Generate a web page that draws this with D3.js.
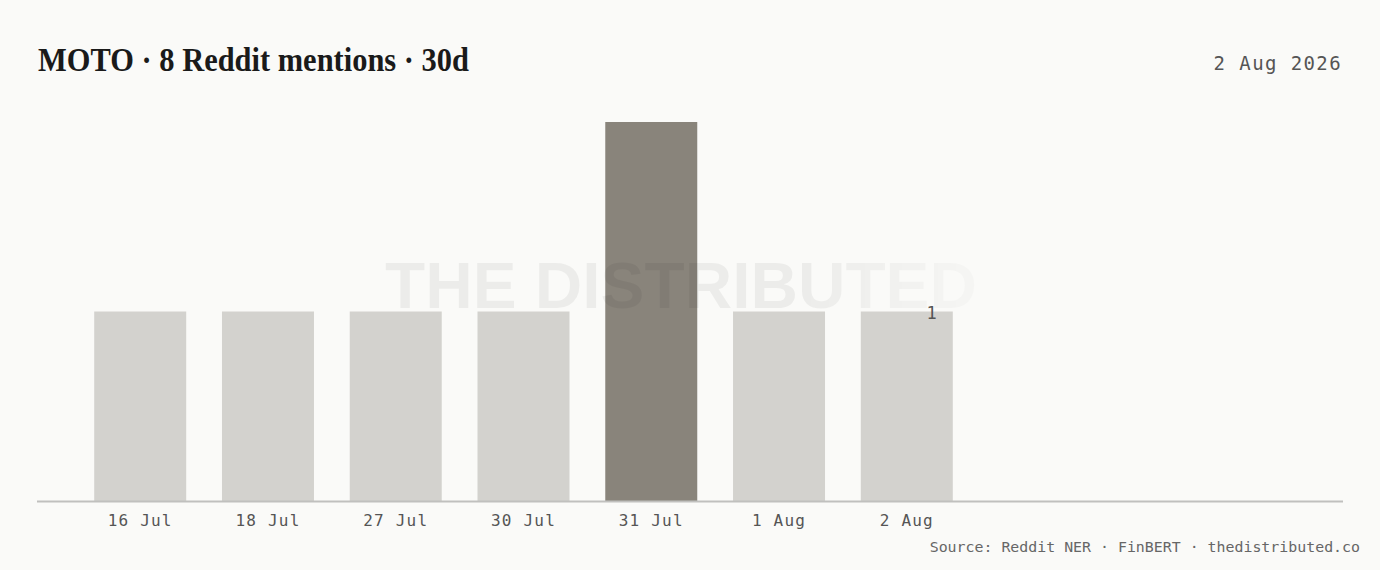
<!DOCTYPE html>
<html><head><meta charset="utf-8">
<script src="https://cdn.jsdelivr.net/npm/d3@7"></script>
<style>
html,body{margin:0;padding:0;background:#fafaf8;}
svg{display:block;}
</style></head>
<body>
<svg id="c" width="1380" height="570"></svg>
<script>
const categories = ["16 Jul","18 Jul","27 Jul","30 Jul","31 Jul","1 Aug","2 Aug"];
const mentions = [1,1,1,1,2,1,1];
const highlight = ["31 Jul"];
const labelled = ["2 Aug"];
const yTicks = [0,1,2];
const titleText = "MOTO · 8 Reddit mentions · 30d";
const dateText = "2 Aug 2026";
const sourceText = "Source: Reddit NER · FinBERT · thedistributed.co";
const watermark = "THE DISTRIBUTED";

const svg = d3.select("#c");
svg.append("rect").attr("width",1380).attr("height",570).attr("fill","#fafaf8");

const x = d3.scaleBand().domain(categories).range([38,1009]).paddingInner(0.28).paddingOuter(0.44);
const y = d3.scaleLinear().domain([0, d3.max(yTicks)]).range([501,122]);

// title
svg.append("text").attr("x",38).attr("y",71)
  .attr("font-family","'Liberation Serif','DejaVu Serif',serif").attr("font-weight","bold")
  .attr("font-size",34).attr("fill","#1a1a1a")
  .attr("textLength",431).attr("lengthAdjust","spacingAndGlyphs")
  .text(titleText);
svg.append("text").attr("x",1342).attr("y",70).attr("text-anchor","end")
  .attr("font-family","'DejaVu Sans Mono',monospace").attr("font-size",19)
  .attr("letter-spacing",1.4).attr("fill","#555")
  .text(dateText);

// bars
svg.append("g").selectAll("rect").data(categories).join("rect")
  .attr("x",d=>x(d)).attr("width",x.bandwidth())
  .attr("y",(d,i)=>y(mentions[i])).attr("height",(d,i)=>y(0)-y(mentions[i]))
  .attr("fill",d=>highlight.includes(d)?"#89847b":"#d3d2ce");

// watermark
const defs = svg.append("defs");
const g = defs.append("linearGradient").attr("id","wmfade").attr("gradientUnits","userSpaceOnUse")
  .attr("x1",385).attr("x2",980).attr("y1",0).attr("y2",0);
g.append("stop").attr("offset","0").attr("stop-color","#fff").attr("stop-opacity",1);
g.append("stop").attr("offset","0.7").attr("stop-color","#fff").attr("stop-opacity",1);
g.append("stop").attr("offset","1").attr("stop-color","#fff").attr("stop-opacity",0.3);
defs.append("mask").attr("id","wmmask").append("rect").attr("x",0).attr("y",0).attr("width",1380).attr("height",570).attr("fill","url(#wmfade)");
defs.append("filter").attr("id","wmblur").append("feGaussianBlur").attr("stdDeviation",0.7);
svg.append("text").attr("x",385).attr("y",308)
  .attr("font-family","'Liberation Sans',Arial,sans-serif").attr("font-weight","bold")
  .attr("font-size",64).attr("fill","#000").attr("fill-opacity",0.055)
  .attr("textLength",592).attr("lengthAdjust","spacingAndGlyphs")
  .attr("mask","url(#wmmask)").attr("filter","url(#wmblur)")
  .text(watermark);

// value label
svg.append("g").selectAll("text").data(labelled).join("text")
  .attr("x",d=>x(d)+x.bandwidth()*0.77).attr("y",d=>y(mentions[categories.indexOf(d)])+7)
  .attr("text-anchor","middle")
  .attr("font-family","'DejaVu Sans Mono',monospace").attr("font-size",17).attr("fill","#555")
  .text(d=>mentions[categories.indexOf(d)]);

// axis
const ax = svg.append("g").attr("transform","translate(0,501)").call(d3.axisBottom(x).tickSize(0).tickPadding(14));
ax.select(".domain").remove();
ax.selectAll("text").attr("font-family","'DejaVu Sans Mono',monospace").attr("font-size",16)
  .attr("letter-spacing",1.2).attr("fill","#555");
svg.append("line").attr("x1",37).attr("x2",1343).attr("y1",y(0)+0.5).attr("y2",y(0)+0.5)
  .attr("stroke","#c0c0be").attr("stroke-width",2);

svg.append("text").attr("x",1360).attr("y",552).attr("text-anchor","end")
  .attr("font-family","'DejaVu Sans Mono',monospace").attr("font-size",14.9).attr("fill","#666")
  .text(sourceText);
</script>
</body></html>
